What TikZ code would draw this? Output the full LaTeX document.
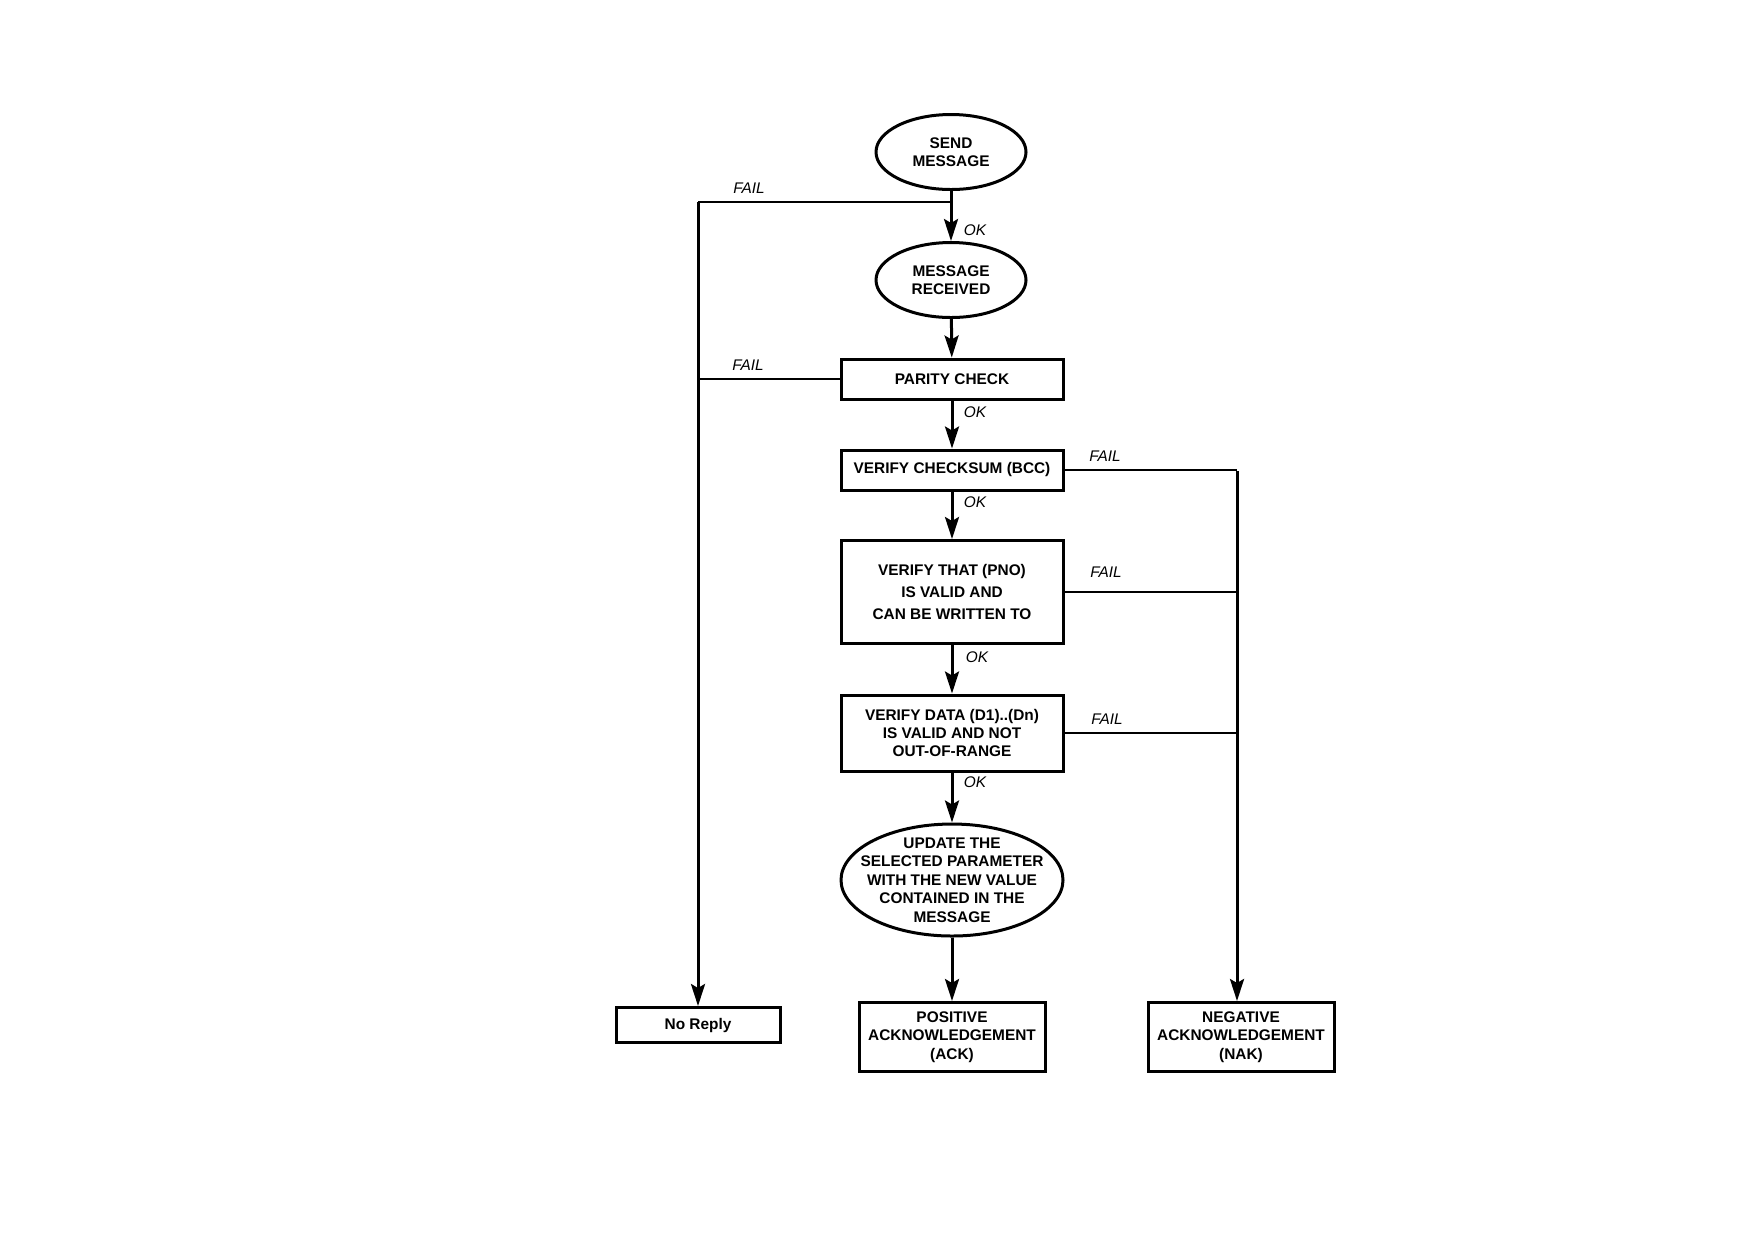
\documentclass[tikz,border=0pt]{standalone}
\usepackage{fontspec}
\setmainfont{Liberation Sans}
\usetikzlibrary{shapes.geometric,arrows.meta}

\tikzset{
  box/.style={draw, line width=1.5pt, inner sep=0pt, align=center,
    font=\bfseries\fontsize{7.7}{9.2}\selectfont},
  oval/.style={box, ellipse},
  flow/.style={line width=1.5pt, -{Stealth[length=11pt,width=7pt,inset=2pt]}},
  failline/.style={line width=1.4pt},
  thinline/.style={line width=0.9pt},
  tag/.style={inner sep=0pt, font=\itshape\fontsize{7.7}{9}\selectfont},
}

\begin{document}
\begin{tikzpicture}[x=0.5pt,y=-0.5pt]
\useasboundingbox (0,0) rectangle (1754,1239);

%colonna centrale
\node[oval, minimum width=75pt, minimum height=37.5pt] (send) at (951,152) {SEND\\MESSAGE};
\node[oval, minimum width=75pt, minimum height=37.5pt] (recv) at (951,280) {MESSAGE\\RECEIVED};
\node[box, minimum width=111pt, minimum height=20pt] (parity) at (952,379) {PARITY CHECK};
\node[box, minimum width=111pt, minimum height=20pt] (chk) at (952,470) {VERIFY CHECKSUM (BCC)};
\node[box, minimum width=111pt, minimum height=51.5pt] (pno) at (952,592)
  {VERIFY THAT (PNO)\\[1.8pt] IS VALID AND\\[1.8pt] CAN BE WRITTEN TO};
\node[box, minimum width=111pt, minimum height=38pt] (data) at (952,733)
  {VERIFY DATA (D1)..(Dn)\\IS VALID AND NOT\\OUT-OF-RANGE};
\node[oval, inner xsep=-7pt, inner ysep=-3pt, minimum width=111pt, minimum height=56pt] (update) at (952,880)
  {UPDATE THE\\SELECTED PARAMETER\\WITH THE NEW VALUE\\CONTAINED IN THE\\MESSAGE};

%risposte
\node[box, minimum width=82pt, minimum height=17.5pt, font=\bfseries\fontsize{7.7}{9}\selectfont] (noreply) at (698,1025) {No Reply};
\node[box, minimum width=93pt, minimum height=34.5pt] (ack) at (952,1037) {POSITIVE\\ACKNOWLEDGEMENT\\(ACK)};
\node[box, minimum width=93pt, minimum height=34.5pt] (nak) at (1241,1037) {NEGATIVE\\ACKNOWLEDGEMENT\\(NAK)};

\draw[flow] (send) -- (recv);
\draw[flow] (recv) -- (parity);
\draw[flow] (parity) -- (chk);
\draw[flow] (chk) -- (pno);
\draw[flow] (pno) -- (data);
\draw[flow] (data) -- (update);
\draw[flow] (update) -- (ack);

%ramo sinistro
\coordinate (lt) at (698,202);
\coordinate (mt) at (send.south |- lt);
\draw[failline] (mt) -- (lt);
\draw[flow] (lt) -- (noreply.north);
\draw[failline] (parity.west) -- (parity.west -| lt);

%ramo destro
\coordinate (rt) at (1237,471);
\draw[failline] (chk.east) -- (chk.east -| rt);
\draw[thinline] (pno.east) -- (pno.east -| rt);
\draw[thinline] (data.east) -- (data.east -| rt);
\draw[flow] (rt) -- (rt |- nak.north);

\node[tag] (fail1) at (749,188) {FAIL};
\node[tag] (fail2) at (748,365) {FAIL};
\node[tag] (fail3) at (1105,456) {FAIL};
\node[tag] (fail4) at (1106,572) {FAIL};
\node[tag] (fail5) at (1107,719) {FAIL};

\node[tag] (ok1) at (975,230) {OK};
\node[tag] (ok2) at (975,412) {OK};
\node[tag] (ok3) at (975,502) {OK};
\node[tag] (ok4) at (977,657) {OK};
\node[tag] (ok5) at (975,782) {OK};

\end{tikzpicture}
\end{document}
